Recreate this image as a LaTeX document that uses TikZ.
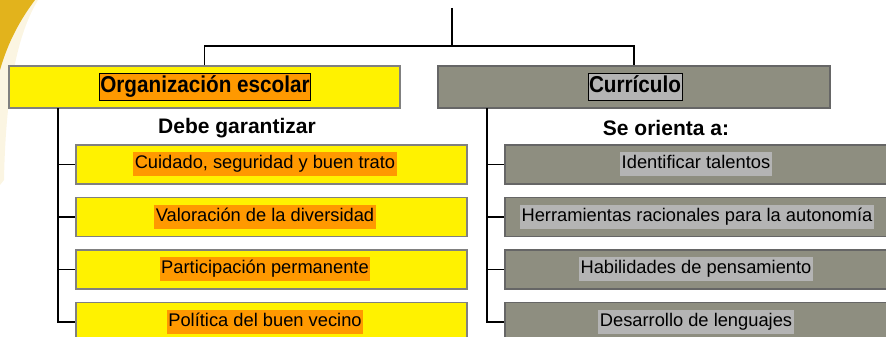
\documentclass[tikz,border=0pt]{standalone}
\usepackage{fontspec}
\setmainfont{Liberation Sans}
\usetikzlibrary{positioning}
\definecolor{orgorange}{HTML}{FF9900}
\definecolor{curgrey}{HTML}{8E8E80}
\definecolor{labgrey}{HTML}{B4B4B4}
\definecolor{gold}{HTML}{E2B31C}
\definecolor{cream}{HTML}{FBF5E2}
\tikzset{every node/.append style={transform shape=false}}
\tikzset{link/.style={line width=1.5pt}}
\tikzset{yellowbox/.style={draw=gray, line width=1.3pt, fill=yellow, inner sep=0pt}}
\tikzset{greybox/.style={draw=gray!80!black, line width=1.3pt, fill=curgrey, inner sep=0pt}}
\tikzset{toplab/.style={draw=black, line width=.8pt, inner xsep=1pt, inner ysep=0pt,
    text height=16pt, text depth=4pt, minimum height=27pt,
    font=\fontsize{23}{26}\selectfont}}
\tikzset{head/.style={inner sep=0pt, font=\fontsize{21}{24}\selectfont\bfseries}}
\tikzset{itemlab/.style={inner xsep=1.5pt, inner ysep=0pt, text height=14pt,
    text depth=4.5pt, minimum height=24pt, font=\fontsize{18.3}{21}\selectfont}}

\begin{document}
\begin{tikzpicture}[x=1pt,y=-1pt]
\useasboundingbox (0,0) rectangle (886,337);
% background swoosh in the corner
\fill[cream] (0,0) -- (38,0) .. controls (20,30) and (6,80) .. (4,180) -- (0,185) -- cycle;
\fill[gold] (0,0) -- (35,0) .. controls (20,20) and (8,42) .. (0,70) -- cycle;
% upper level
\node[yellowbox, minimum width=391pt, minimum height=42pt] (org) at (204.5,87) {};
\node[toplab, fill=orgorange] (orglab) at (205,86.5)
  {\scalebox{0.9}[1]{\bfseries Organización escolar}};
\node[greybox, minimum width=392pt, minimum height=42pt] (cur) at (634,87) {};
\node[toplab, fill=labgrey] (curlab) at (635,86.5)
  {\scalebox{0.9}[1]{\bfseries Currículo}};
\coordinate (top) at (452,8);
\coordinate (split) at (452,46);
\draw[link] (top) -- (split);
\draw[link] (org.north) |- (split) -| (cur.north);
\node[head] (garant) at (237,128) {Debe garantizar};
\node[head] (orienta) at (666,128) {Se orienta a:};
% left column
\node[yellowbox, minimum width=391pt, minimum height=39pt] (g1) at (271.5,164.5) {};
\node[yellowbox, minimum width=391pt, minimum height=39pt] (g2) at (271.5,217) {};
\node[yellowbox, minimum width=391pt, minimum height=39pt] (g3) at (271.5,269.5) {};
\node[yellowbox, minimum width=391pt, minimum height=39pt] (g4) at (271.5,322) {};
\node[itemlab, fill=orgorange] (g1lab) at (265,164) {Cuidado, seguridad y buen trato};
\node[itemlab, fill=orgorange] (g2lab) at (265,216.5) {Valoración de la diversidad};
\node[itemlab, fill=orgorange] (g3lab) at (265,269) {Participación permanente};
\node[itemlab, fill=orgorange] (g4lab) at (265,321.5) {Política del buen vecino};
\coordinate (lt) at (58,108);
\draw[link] (lt) |- (g4.west);
\draw[link] (lt |- g1.west) -- (g1.west);
\draw[link] (lt |- g2.west) -- (g2.west);
\draw[link] (lt |- g3.west) -- (g3.west);
% right column
\node[greybox, minimum width=382pt, minimum height=39pt] (o1) at (696,164.5) {};
\node[greybox, minimum width=382pt, minimum height=39pt] (o2) at (696,217) {};
\node[greybox, minimum width=382pt, minimum height=39pt] (o3) at (696,269.5) {};
\node[greybox, minimum width=382pt, minimum height=39pt] (o4) at (696,322) {};
\node[itemlab, fill=labgrey] (o1lab) at (696,164) {Identificar talentos};
\node[itemlab, fill=labgrey] (o2lab) at (697,216.5) {Herramientas racionales para la autonomía};
\node[itemlab, fill=labgrey] (o3lab) at (696,269) {Habilidades de pensamiento};
\node[itemlab, fill=labgrey] (o4lab) at (696,321.5) {Desarrollo de lenguajes};
\coordinate (rt) at (487,108);
\draw[link] (rt) |- (o4.west);
\draw[link] (rt |- o1.west) -- (o1.west);
\draw[link] (rt |- o2.west) -- (o2.west);
\draw[link] (rt |- o3.west) -- (o3.west);
\end{tikzpicture}
\end{document}
